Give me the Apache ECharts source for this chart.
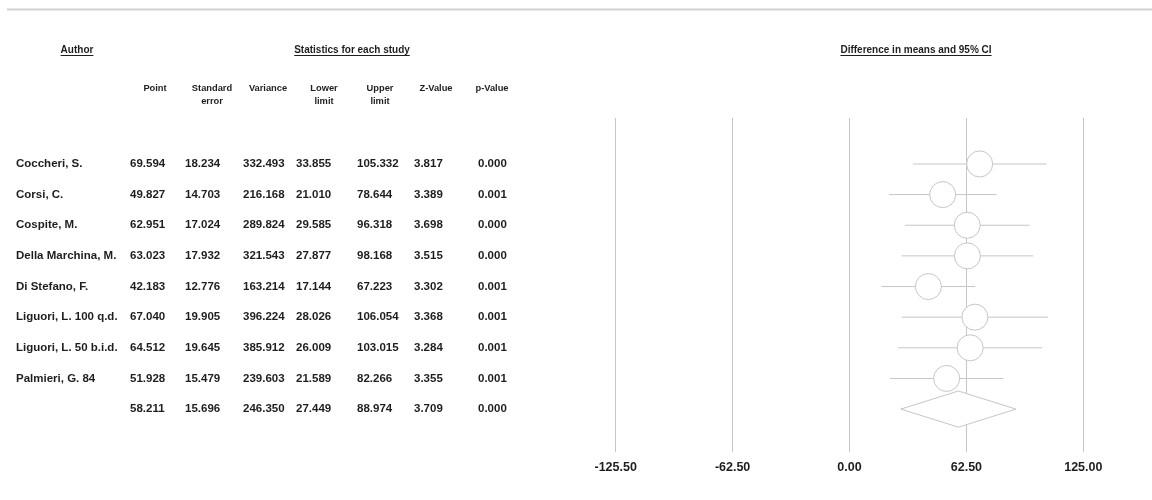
<!DOCTYPE html>
<html><head><meta charset="utf-8">
<script src="https://cdn.jsdelivr.net/npm/echarts@6/dist/echarts.min.js"></script>
<style>html,body{margin:0;padding:0;background:#fff}#c{width:1152px;height:500px}</style>
</head><body><div id="c"></div>
<script>
// ---- data ----
const authors = ['Coccheri, S.', 'Corsi, C.', 'Cospite, M.', 'Della Marchina, M.', 'Di Stefano, F.', 'Liguori, L. 100 q.d.', 'Liguori, L. 50 b.i.d.', 'Palmieri, G. 84', ''];
const pointEst = [69.594, 49.827, 62.951, 63.023, 42.183, 67.040, 64.512, 51.928, 58.211];
const stdErr   = [18.234, 14.703, 17.024, 17.932, 12.776, 19.905, 19.645, 15.479, 15.696];
const variance = [332.493, 216.168, 289.824, 321.543, 163.214, 396.224, 385.912, 239.603, 246.350];
const lowerLim = [33.855, 21.010, 29.585, 27.877, 17.144, 28.026, 26.009, 21.589, 27.449];
const upperLim = [105.332, 78.644, 96.318, 98.168, 67.223, 106.054, 103.015, 82.266, 88.974];
const zValue   = [3.817, 3.389, 3.698, 3.515, 3.302, 3.368, 3.284, 3.355, 3.709];
const pValue   = [0.000, 0.001, 0.000, 0.000, 0.001, 0.001, 0.001, 0.001, 0.000];
const colHeaders = ['Point', 'Standard\nerror', 'Variance', 'Lower\nlimit', 'Upper\nlimit', 'Z-Value', 'p-Value'];
const tickValues = [-125, -62.5, 0, 62.5, 125];
const tickLabels = ['-125.50', '-62.50', '0.00', '62.50', '125.00'];
const summaryIndex = 8;

// ---- layout / style ----
const FONT = "'Liberation Sans', Arial, Helvetica, sans-serif";
const TXT = '#1e1e1e';
const GRAY = '#c6c6c6';
const authorX = 16;
const colTextX = [130, 185, 243, 296, 357, 414, 478];
const colHeadX = [155, 212, 268, 324, 380, 436, 492];

const chart = echarts.init(document.getElementById('c'), null, {renderer: 'canvas'});

const measure = (() => {
  const cv = document.createElement('canvas').getContext('2d');
  return (txt, font) => { cv.font = font; return cv.measureText(txt).width; };
})();

function titleWithUnderline(text, cx, cy) {
  const font = 'bold 10px ' + FONT;
  const w = measure(text, font);
  return [
    {type: 'text', x: cx, y: cy, style: {text: text, font: font, fill: TXT, align: 'center', verticalAlign: 'middle'}},
    {type: 'line', shape: {x1: cx - w / 2, y1: cy + 5.5, x2: cx + w / 2, y2: cy + 5.5}, style: {stroke: TXT, lineWidth: 1}}
  ];
}

const graphics = [
  {type: 'line', shape: {x1: 7, y1: 9.5, x2: 1152, y2: 9.5}, style: {stroke: '#d2d2d2', lineWidth: 2}},
  ...titleWithUnderline('Author', 77, 50),
  ...titleWithUnderline('Statistics for each study', 352, 50),
  ...titleWithUnderline('Difference in means and 95% CI', 916, 50)
];
colHeaders.forEach((h, k) => {
  graphics.push({type: 'text', x: colHeadX[k], y: 82, style: {text: h, font: 'bold 9.3px ' + FONT, fill: TXT, align: 'center', verticalAlign: 'top', lineHeight: 13}});
});

const rows = authors.map((a, i) => i);
const cols = [pointEst, stdErr, variance, lowerLim, upperLim, zValue, pValue];

const option = {
  animation: false,
  backgroundColor: '#fff',
  graphic: graphics,
  grid: {left: 615.7, right: 68.7, top: 118, height: 334, containLabel: false},
  xAxis: {
    type: 'value', min: -125, max: 125, interval: 62.5,
    axisLine: {show: false}, axisTick: {show: false},
    splitLine: {show: true, lineStyle: {color: GRAY, width: 1}},
    axisLabel: {margin: 9, fontFamily: FONT, fontWeight: 'bold', fontSize: 12.5, color: TXT,
      formatter: v => { const k = tickValues.indexOf(v); return k >= 0 ? tickLabels[k] : ''; }}
  },
  yAxis: {
    type: 'value', inverse: true, min: -1.5, max: 9.4,
    show: false, splitLine: {show: false}
  },
  series: [
    {
      // table text
      type: 'custom', clip: false, silent: true, z: 5,
      data: rows,
      renderItem: (params, api) => {
        const i = params.dataIndex;
        const y = api.coord([0, i])[1];
        const font = 'bold 11.5px ' + FONT;
        const children = [];
        if (authors[i]) children.push({type: 'text', style: {text: authors[i], x: authorX, y: y, font: font, fill: TXT, align: 'left', verticalAlign: 'middle'}});
        cols.forEach((arr, k) => {
          children.push({type: 'text', style: {text: arr[i].toFixed(3), x: colTextX[k], y: y, font: font, fill: TXT, align: 'left', verticalAlign: 'middle'}});
        });
        return {type: 'group', children: children};
      }
    },
    {
      // confidence interval lines and summary diamond
      type: 'custom', clip: false, silent: true, z: 3,
      data: rows,
      renderItem: (params, api) => {
        const i = params.dataIndex;
        if (i === summaryIndex) {
          const l = api.coord([lowerLim[i], i]);
          const r = api.coord([upperLim[i], i]);
          const t = api.coord([pointEst[i], i - 0.59]);
          const b = api.coord([pointEst[i], i + 0.59]);
          return {type: 'polygon', shape: {points: [l, t, r, b]}, style: {fill: '#fff', stroke: GRAY, lineWidth: 1}};
        }
        const p1 = api.coord([lowerLim[i], i]);
        const p2 = api.coord([upperLim[i], i]);
        return {type: 'line', shape: {x1: p1[0], y1: p1[1], x2: p2[0], y2: p2[1]}, style: {stroke: GRAY, lineWidth: 1}};
      }
    },
    {
      // point estimates
      type: 'scatter', silent: true, z: 4,
      symbol: 'circle', symbolSize: 26,
      itemStyle: {color: '#fff', borderColor: GRAY, borderWidth: 1, opacity: 1},
      data: pointEst.slice(0, summaryIndex).map((v, i) => [v, i])
    }
  ]
};
chart.setOption(option);
</script>
</body></html>
